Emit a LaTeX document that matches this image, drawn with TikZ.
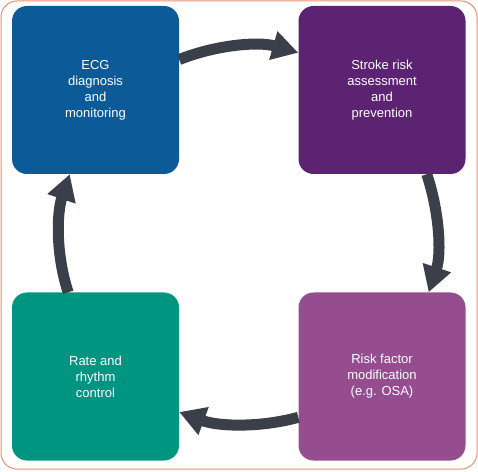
\documentclass[tikz,border=0pt]{standalone}
\usepackage{fontspec}
\setmainfont{Liberation Sans}
\usetikzlibrary{arrows.meta}
\definecolor{ecgblue}{HTML}{0C5A98}
\definecolor{strokepurple}{HTML}{5B2371}
\definecolor{rategreen}{HTML}{009581}
\definecolor{riskmauve}{HTML}{954D8F}
\definecolor{arrowgray}{HTML}{3A3F4A}
\definecolor{framecol}{HTML}{EC8E70}
\begin{document}
\begin{tikzpicture}[x=1pt,y=1pt,
  stagebox/.style={rounded corners=15pt, minimum width=167pt, minimum height=168pt,
    inner sep=0pt, text=white, align=center, font=\fontsize{13}{16}\selectfont},
  cyclearrow/.style={draw=arrowgray, line width=11pt,
    -{Triangle[length=26pt,width=28pt]}, looseness=0.88}]
\useasboundingbox (0,0) rectangle (478,471);
\draw[framecol, line width=1pt, rounded corners=16pt] (1,2) rectangle (477,470);
\node[stagebox, fill=ecgblue] (ecg) at (95.5,381) {ECG\\diagnosis\\and\\monitoring};
\node[stagebox, fill=strokepurple] (stroke) at (382,381) {Stroke risk\\assessment\\and\\prevention};
\node[stagebox, fill=rategreen] (rate) at (95.5,94.5) {Rate and\\rhythm\\control};
\node[stagebox, fill=riskmauve] (risk) at (382,94.5) {Risk factor\\modification\\(e.g. OSA)};
\draw[cyclearrow] (ecg.20) to[out=21.5, in=164] (stroke.156);
\draw[cyclearrow] (stroke.-62) to[out=-71.7, in=71.6] (risk.61);
\draw[cyclearrow] (risk.206) to[out=195.2, in=-20.3] (rate.-23);
\draw[cyclearrow] (rate.108) to[out=108, in=251.4] (ecg.253);
\end{tikzpicture}
\end{document}
